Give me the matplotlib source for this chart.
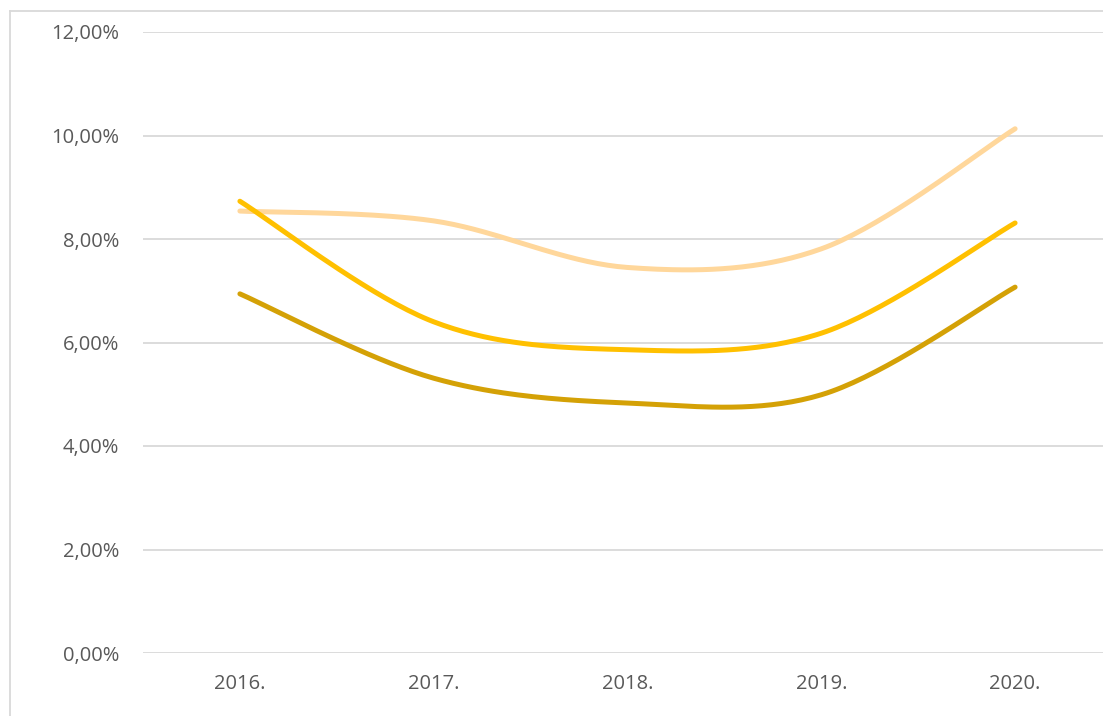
import numpy as np
import matplotlib
matplotlib.use("Agg")
import matplotlib.pyplot as plt
from matplotlib.lines import Line2D
from matplotlib.ticker import FuncFormatter

categories = ["2016.", "2017.", "2018.", "2019.", "2020."]
series_light = [8.54, 8.35, 7.45, 7.81, 10.13]
series_gold = [8.73, 6.40, 5.86, 6.18, 8.31]
series_dark = [6.94, 5.31, 4.83, 4.99, 7.07]
yticks = [0, 2, 4, 6, 8, 10, 12]

colors = {"light": "#FFD79B", "gold": "#FFC000", "dark": "#D4A106"}

plt.rcParams['font.family'] = ['Open Sans', 'DejaVu Sans']

W, H = 1103, 716
fig = plt.figure(figsize=(W / 100, H / 100), dpi=100)
left, right, top, bottom = 143, 1112, 32, 653
ax = fig.add_axes([left / W, 1 - bottom / H, (right - left) / W, (bottom - top) / H])


def smooth(xs, ys, n=40):
    xs = np.asarray(xs, float)
    ys = np.asarray(ys, float)
    P = np.column_stack([xs, ys])
    out = []
    m = len(P)
    for i in range(m - 1):
        p0 = P[max(i - 1, 0)]
        p1 = P[i]
        p2 = P[i + 1]
        p3 = P[min(i + 2, m - 1)]
        c1 = p1 + (p2 - p0) / 6
        c2 = p2 - (p3 - p1) / 6
        t = np.linspace(0, 1, n)[:, None]
        seg = ((1 - t) ** 3) * p1 + 3 * ((1 - t) ** 2) * t * c1 + 3 * (1 - t) * t ** 2 * c2 + t ** 3 * p2
        if i > 0:
            seg = seg[1:]
        out.append(seg)
    c = np.vstack(out)
    return c[:, 0], c[:, 1]


x = np.arange(len(categories))
for vals, key in [(series_light, "light"), (series_gold, "gold"), (series_dark, "dark")]:
    sx, sy = smooth(x, vals)
    ax.plot(sx, sy, color=colors[key], lw=3.6, solid_capstyle='round', zorder=3)

ax.set_xlim(-0.5, len(categories) - 0.5)
ax.set_ylim(0, 12)
ax.set_yticks(yticks)
ax.yaxis.set_major_formatter(FuncFormatter(lambda v, p: f"{v:.2f}".replace(".", ",") + "%"))
ax.set_xticks(x)
ax.set_xticklabels(categories)
ax.grid(axis='y', color='#D9D9D9', lw=1.3)
ax.set_axisbelow(True)
for s in ax.spines.values():
    s.set_visible(False)
ax.tick_params(axis='both', length=0, labelsize=14.5, labelcolor='#595959')
ax.tick_params(axis='y', pad=17)
ax.tick_params(axis='x', pad=15)

# chart frame
fig.add_artist(Line2D([9.5 / W, 9.5 / W], [0, 1 - 10.5 / H], color='#D9D9D9', lw=1.3, transform=fig.transFigure))
fig.add_artist(Line2D([9.5 / W, 1], [1 - 10.5 / H, 1 - 10.5 / H], color='#D9D9D9', lw=1.3, transform=fig.transFigure))

fig.savefig("out.png", dpi=100)
